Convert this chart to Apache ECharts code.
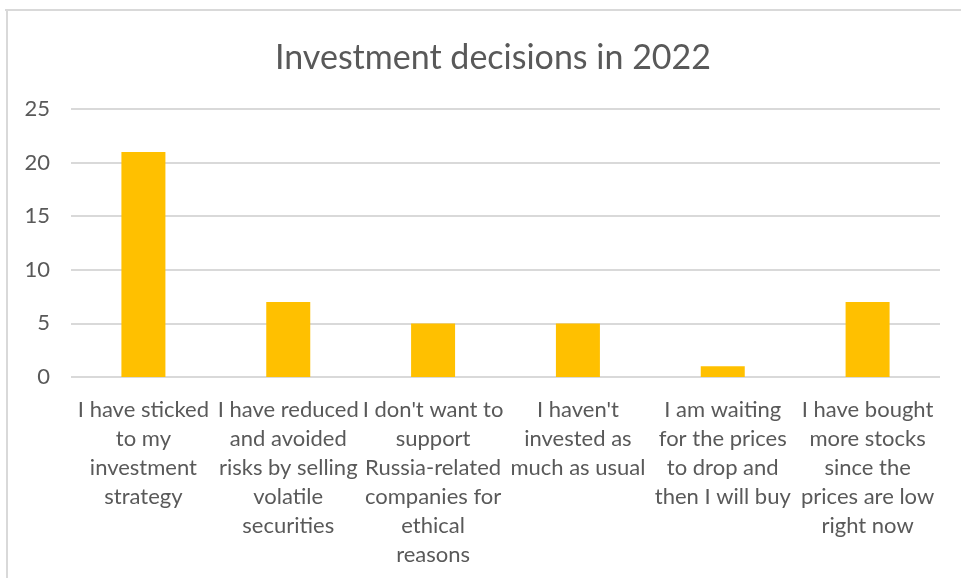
<!DOCTYPE html>
<html>
<head>
<meta charset="utf-8">
<title>Investment decisions in 2022</title>
<script src="https://cdn.jsdelivr.net/npm/echarts@6/dist/echarts.min.js"></script>
<style>
  html, body { margin: 0; padding: 0; background: #ffffff; }
  #chart { width: 961px; height: 578px; }
</style>
</head>
<body>
<div id="chart"></div>
<script>
// Survey answers (category labels are wrapped by hand)
const categories = [
  "I have sticked\nto my\ninvestment\nstrategy",
  "I have reduced\nand avoided\nrisks by selling\nvolatile\nsecurities",
  "I don't want to\nsupport\nRussia-related\ncompanies for\nethical\nreasons",
  "I haven't\ninvested as\nmuch as usual",
  "I am waiting\nfor the prices\nto drop and\nthen I will buy",
  "I have bought\nmore stocks\nsince the\nprices are low\nright now"
];
// Number of respondents per answer
const responses = [21, 7, 5, 5, 1, 7];
// Value axis ticks
const yTicks = [0, 5, 10, 15, 20, 25];

const textColor = "#595959";
const fontFamily = "Lato, 'Liberation Sans', sans-serif";

const chart = echarts.init(document.getElementById("chart"), null, { renderer: "canvas" });
chart.setOption({
  animation: false,
  backgroundColor: "#ffffff",
  textStyle: { fontFamily: fontFamily },
  title: {
    text: "Investment decisions in 2022",
    left: 488,
    top: 36,
    textAlign: "center",
    textStyle: { color: textColor, fontSize: 34, fontWeight: "normal", fontFamily: fontFamily }
  },
  graphic: [
    { type: "line", shape: { x1: 5, y1: 10, x2: 961, y2: 10 }, style: { stroke: "#d9d9d9", lineWidth: 2 }, silent: true },
    { type: "line", shape: { x1: 7, y1: 10, x2: 7, y2: 578 }, style: { stroke: "#d9d9d9", lineWidth: 2 }, silent: true }
  ],
  grid: { left: 71, right: 21, top: 109, bottom: 201, containLabel: false },
  xAxis: {
    type: "category",
    data: categories,
    axisLine: { show: false },
    axisTick: { show: false },
    axisLabel: {
      interval: 0,
      margin: 18,
      color: textColor,
      fontSize: 22,
      lineHeight: 29,
      fontFamily: fontFamily,
      align: "center"
    }
  },
  yAxis: {
    type: "value",
    min: yTicks[0],
    max: yTicks[yTicks.length - 1],
    interval: yTicks[1] - yTicks[0],
    axisLine: { show: false },
    axisTick: { show: false },
    axisLabel: { color: textColor, fontSize: 22, margin: 21, fontFamily: fontFamily },
    splitLine: { lineStyle: { color: "#d9d9d9", width: 2 } }
  },
  series: [{
    type: "bar",
    data: responses,
    barWidth: 44,
    itemStyle: { color: "#FFC000" }
  }]
});
</script>
</body>
</html>
